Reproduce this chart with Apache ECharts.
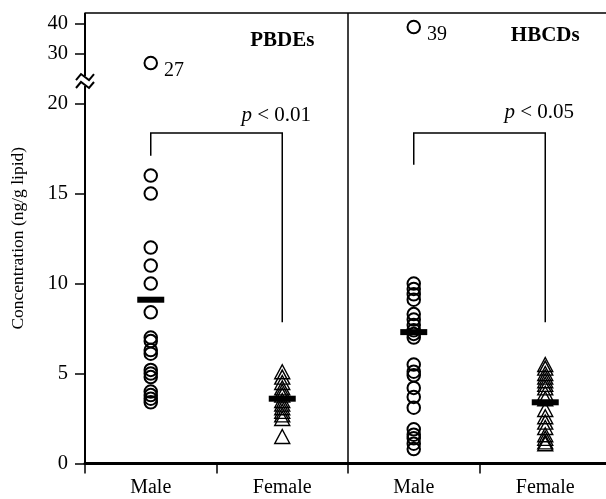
<!DOCTYPE html>
<html>
<head>
<meta charset="utf-8">
<script src="https://cdn.jsdelivr.net/npm/echarts@6/dist/echarts.min.js"></script>
<style>
html,body{margin:0;padding:0;background:#fff;}
#c{width:606px;height:499px;}
</style>
</head>
<body>
<div id="c"></div>
<script>
// ---- data (ng/g lipid) ----
const categories = ['Male', 'Female', 'Male', 'Female'];
const pbdeMale   = [27, 16, 15, 12, 11, 10, 8.4, 7.0, 6.8, 6.3, 6.1, 5.2, 5.0, 4.8, 4.0, 3.8, 3.6, 3.4];
const pbdeFemale = [5.1, 4.8, 4.5, 4.2, 4.0, 3.8, 3.5, 3.3, 3.1, 2.9, 2.7, 2.5, 1.5];
const hbcdMale   = [39, 10.0, 9.7, 9.4, 9.1, 8.3, 8.0, 7.7, 7.4, 7.2, 7.0, 5.5, 5.1, 4.9, 4.2, 3.7, 3.1, 1.9, 1.6, 1.4, 1.1, 0.8];
const hbcdFemale = [5.5, 5.3, 5.0, 4.8, 4.6, 4.4, 4.2, 3.9, 3.6, 3.0, 2.6, 2.3, 2.0, 1.6, 1.4, 1.2, 1.1];
const groupMeans = [9.1, 3.6, 7.3, 3.4];
const yTicks     = [0, 5, 10, 15, 20, 30, 40];
const groupTitles = ['PBDEs', 'HBCDs'];
const pValues    = ['0.01', '0.05'];
// bracket levels: [male end, top, female end]
const pbdeBracket = [17.1, 18.36, 7.85];
const hbcdBracket = [16.6, 18.36, 7.85];

// broken axis: linear to 20, compressed above
function toDisp(v) { return v <= 20 ? v : 22.75 + (v - 30) / 6; }

const FONT = "'Liberation Serif','Times New Roman',serif";
const dispTicks = yTicks.map(toDisp);

const circleData = pbdeMale.map(v => [0, toDisp(v), v]).concat(hbcdMale.map(v => [2, toDisp(v), v]));
const triData = pbdeFemale.map(v => [1, toDisp(v), v]).concat(hbcdFemale.map(v => [3, toDisp(v), v]));
const meanData = groupMeans.map((v, i) => [i, toDisp(v), v]);

const chart = echarts.init(document.getElementById('c'), null, {renderer: 'canvas'});

function annot(params, api) {
  const bw = api.size([1, 0])[0];
  const x0 = api.coord([0, 0])[0] - bw / 2;
  const yBot = api.coord([0, 0])[1];
  const yTop = api.coord([0, 25.03])[1];
  const yB1 = api.coord([0, 21.03])[1];
  const yB2 = api.coord([0, 21.47])[1];
  const xDiv = api.coord([1, 0])[0] + bw / 2;
  const ls = {stroke: '#000', lineWidth: 2, fill: null};
  const zig = (yc) => ({type: 'polyline', shape: {points: [[x0 - 9, yc + 3], [x0 - 4, yc - 3], [x0 + 4, yc + 3], [x0 + 9, yc - 3]]}, style: ls});
  const children = [
    {type: 'line', shape: {x1: x0, y1: yBot, x2: x0, y2: yB1 + 1}, style: ls},
    {type: 'line', shape: {x1: x0, y1: yB2 - 1, x2: x0, y2: yTop}, style: ls},
    zig(yB1), zig(yB2),
    {type: 'line', shape: {x1: xDiv, y1: yBot, x2: xDiv, y2: yTop}, style: {stroke: '#000', lineWidth: 1.5}}
  ];
  [[0, pbdeBracket], [2, hbcdBracket]].forEach(([c, b]) => {
    const p1 = api.coord([c, b[0]]), p2 = api.coord([c, b[1]]), p3 = api.coord([c + 1, b[1]]), p4 = api.coord([c + 1, b[2]]);
    children.push({type: 'polyline', shape: {points: [p1, p2, p3, p4]}, style: {stroke: '#000', lineWidth: 1.5, fill: null}});
  });
  const titleY = [23.5, 23.8];
  groupTitles.forEach((t, i) => {
    const p = api.coord([i * 2 + 1, titleY[i]]);
    children.push({type: 'text', x: p[0], y: p[1], style: {text: t, fill: '#000', fontFamily: FONT, fontSize: 21, fontWeight: 'bold', align: 'center', verticalAlign: 'middle', textAlign: 'center', textVerticalAlign: 'middle'}});
  });
  const pY = [19.35, 19.5];
  pValues.forEach((t, i) => {
    const p = api.coord([i * 2 + 1, pY[i]]);
    children.push({type: 'text', x: p[0] - 6, y: p[1], style: {
      text: '{i|p} < ' + t, fill: '#000', fontFamily: FONT, fontSize: 21,
      align: 'center', verticalAlign: 'middle', textAlign: 'center', textVerticalAlign: 'middle',
      rich: {i: {fontStyle: 'italic', fontFamily: FONT, fontSize: 21, fill: '#000'}}
    }});
  });
  return {type: 'group', children: children};
}

const option = {
  animation: false,
  backgroundColor: '#fff',
  grid: {left: 85, right: -5, top: 13, bottom: 35.5, containLabel: false, outerBoundsMode: 'none'},
  xAxis: [{
    type: 'category', data: categories, boundaryGap: true,
    axisLine: {lineStyle: {color: '#000', width: 3}},
    axisTick: {show: true, length: 10, lineStyle: {color: '#000', width: 1.5}},
    axisLabel: {color: '#000', fontFamily: FONT, fontSize: 20, margin: 14},
    splitLine: {show: false}
  }, {
    type: 'category', data: categories, position: 'top', boundaryGap: true,
    axisLine: {lineStyle: {color: '#000', width: 1.5}},
    axisTick: {show: false}, axisLabel: {show: false}, splitLine: {show: false}
  }],
  yAxis: {
    type: 'value', min: 0, max: 25.03,
    name: 'Concentration (ng/g lipid)', nameLocation: 'middle', nameGap: 58, nameRotate: 90,
    nameTextStyle: {color: '#000', fontFamily: FONT, fontSize: 17.5},
    axisLine: {show: false},
    axisTick: {show: true, length: 10, customValues: dispTicks, lineStyle: {color: '#000', width: 1.5}},
    axisLabel: {
      color: '#000', fontFamily: FONT, fontSize: 20.5, margin: 17, customValues: dispTicks,
      formatter: function (v) {
        for (let i = 0; i < dispTicks.length; i++) if (Math.abs(dispTicks[i] - v) < 1e-6) return String(yTicks[i]);
        return '';
      }
    },
    splitLine: {show: false}
  },
  series: [{
    type: 'custom', renderItem: annot, data: [[0, 0]], silent: true, z: 1, clip: false
  }, {
    name: 'Male', type: 'scatter', data: circleData, encode: {x: 0, y: 1},
    symbol: 'circle', symbolSize: 12.5,
    itemStyle: {color: 'rgba(0,0,0,0)', borderColor: '#000', borderWidth: 2, opacity: 1},
    label: {show: true, position: 'right', distance: 6, offset: [0, 8], color: '#000', fontFamily: FONT, fontSize: 20,
      formatter: p => (p.data[2] > 20 ? String(p.data[2]) : '')},
    z: 3
  }, {
    name: 'Female', type: 'scatter', data: triData, encode: {x: 0, y: 1},
    symbol: 'triangle', symbolSize: [15, 14],
    itemStyle: {color: 'rgba(0,0,0,0)', borderColor: '#000', borderWidth: 1.4, opacity: 1},
    z: 3
  }, {
    name: 'Mean', type: 'scatter', data: meanData, encode: {x: 0, y: 1},
    symbol: 'rect', symbolSize: [27, 6],
    itemStyle: {color: '#000', opacity: 1}, z: 4
  }]
};
chart.setOption(option);
</script>
</body>
</html>
